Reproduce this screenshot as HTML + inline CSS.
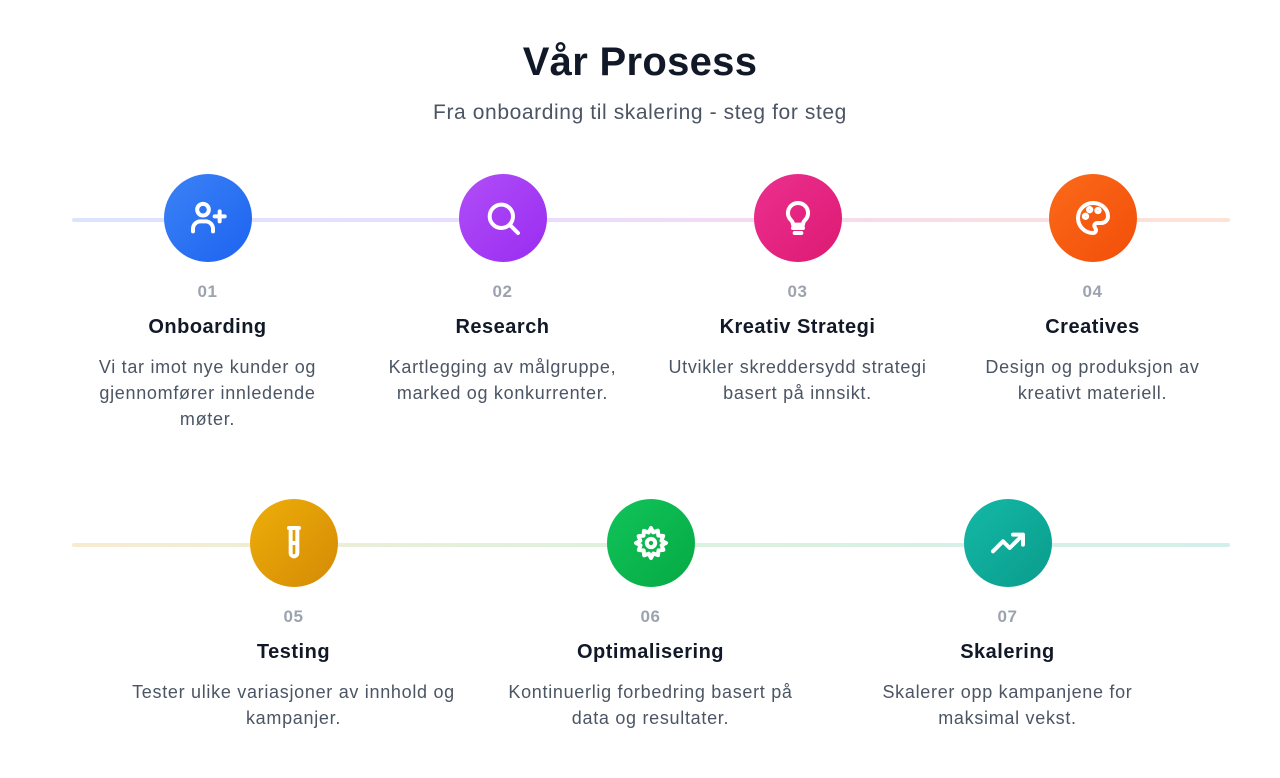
<!DOCTYPE html>
<html><head><meta charset="utf-8"><style>
body{margin:0;width:1280px;height:778px;background:#fff;font-family:"Liberation Sans",sans-serif;position:relative;overflow:hidden}
h1{position:absolute;top:40px;left:0;width:1280px;text-align:center;margin:0;font-size:40px;font-weight:bold;color:#111827;letter-spacing:0.3px}
.sub{position:absolute;top:101px;left:0;width:1280px;text-align:center;font-size:21px;color:#4b5563;letter-spacing:0.6px}
.line{position:absolute;left:72px;width:1158px;height:4px;border-radius:2px}
.step{position:absolute;text-align:center}
.c{width:88px;height:88px;border-radius:50%;margin:0 auto;display:flex;align-items:center;justify-content:center}
.n{margin-top:20px;font-size:17px;font-weight:bold;color:#9ca3af;height:22px;letter-spacing:0.5px}
.t{margin-top:12px;font-size:20px;font-weight:bold;color:#111827;height:26px;letter-spacing:0.5px}
.d{margin:12px auto 0;font-size:18px;line-height:26px;color:#4b5563;letter-spacing:0.7px}
svg{width:40px;height:40px;fill:none;stroke:#fff;stroke-width:2.4;stroke-linecap:round;stroke-linejoin:round}
</style></head><body>
<h1>Vår Prosess</h1>
<div class="sub">Fra onboarding til skalering - steg for steg</div>
<div class="line" style="top:218px;background:linear-gradient(90deg,#dbe4fd,#eadcfd 40%,#f7dcea 70%,#fde3d6)"></div>
<div class="line" style="top:543px;background:linear-gradient(90deg,#f7ecd0,#dcf2df 50%,#d4efea)"></div>

<div class="step" style="left:60px;width:295px;top:174px"><div class="c" style="background:linear-gradient(135deg,#3b82f6,#1d63f0)"><svg viewBox="0 0 24 24"><circle cx="9" cy="7" r="3.5"/><path d="M3 20v-1.5A4.5 4.5 0 0 1 7.5 14h3A4.5 4.5 0 0 1 15 18.5V20M19 8v6M16 11h6"/></svg></div><div class="n">01</div><div class="t">Onboarding</div><div class="d" style="width:245px">Vi tar imot nye kunder og gjennomfører innledende møter.</div></div>
<div class="step" style="left:355px;width:295px;top:174px"><div class="c" style="background:linear-gradient(135deg,#b04ef8,#9a2cf0)"><svg viewBox="0 0 24 24"><circle cx="11" cy="11" r="7"/><path d="M16 16l5 5"/></svg></div><div class="n">02</div><div class="t">Research</div><div class="d" style="width:260px">Kartlegging av målgruppe, marked og konkurrenter.</div></div>
<div class="step" style="left:650px;width:295px;top:174px"><div class="c" style="background:linear-gradient(135deg,#ec2f8f,#dc1a72)"><svg viewBox="0 0 24 24"><path d="M9 18h6M10 21h4M12 3a6 6 0 0 0-4 10.5c.8.8 1 1.5 1 2.5h6c0-1 .2-1.7 1-2.5A6 6 0 0 0 12 3z"/></svg></div><div class="n">03</div><div class="t">Kreativ Strategi</div><div class="d" style="width:285px">Utvikler skreddersydd strategi basert på innsikt.</div></div>
<div class="step" style="left:945px;width:295px;top:174px"><div class="c" style="background:linear-gradient(135deg,#fb6a1a,#f24e08)"><svg viewBox="0 0 24 24"><path d="M12 3a9 9 0 0 0 0 18c1.2 0 1.8-.8 1.8-1.7 0-1.2-1-1.5-1-2.6 0-1 .8-1.7 1.8-1.7H17a4 4 0 0 0 4-4C21 6.6 17 3 12 3z"/><circle cx="7.5" cy="11" r="1"/><circle cx="10" cy="7" r="1"/><circle cx="15" cy="7.5" r="1"/></svg></div><div class="n">04</div><div class="t">Creatives</div><div class="d" style="width:240px">Design og produksjon av kreativt materiell.</div></div>

<div class="step" style="left:115px;width:357px;top:499px"><div class="c" style="background:linear-gradient(135deg,#eeae08,#d48a06)"><svg viewBox="0 0 24 24"><path d="M9 3h6M10 3v15a2 2 0 0 0 4 0V3M10 12h4"/></svg></div><div class="n">05</div><div class="t">Testing</div><div class="d" style="width:350px">Tester ulike variasjoner av innhold og kampanjer.</div></div>
<div class="step" style="left:472px;width:357px;top:499px"><div class="c" style="background:linear-gradient(135deg,#10c45a,#07a944)"><svg viewBox="0 0 24 24"><circle cx="12" cy="12" r="2.5"/><path d="M12 3l1.3 2.6 2.8-1 .3 2.9 2.9.3-1 2.8L21 12l-2.6 1.3 1 2.8-2.9.3-.3 2.9-2.8-1L12 21l-1.3-2.6-2.8 1-.3-2.9-2.9-.3 1-2.8L3 12l2.6-1.3-1-2.8 2.9-.3.3-2.9 2.8 1z"/></svg></div><div class="n">06</div><div class="t">Optimalisering</div><div class="d" style="width:310px">Kontinuerlig forbedring basert på data og resultater.</div></div>
<div class="step" style="left:829px;width:357px;top:499px"><div class="c" style="background:linear-gradient(135deg,#14b8a6,#0a9c8c)"><svg viewBox="0 0 24 24"><path d="M3 17l6-6 4 4 8-8M15 7h6v6"/></svg></div><div class="n">07</div><div class="t">Skalering</div><div class="d" style="width:275px">Skalerer opp kampanjene for maksimal vekst.</div></div>
</body></html>
